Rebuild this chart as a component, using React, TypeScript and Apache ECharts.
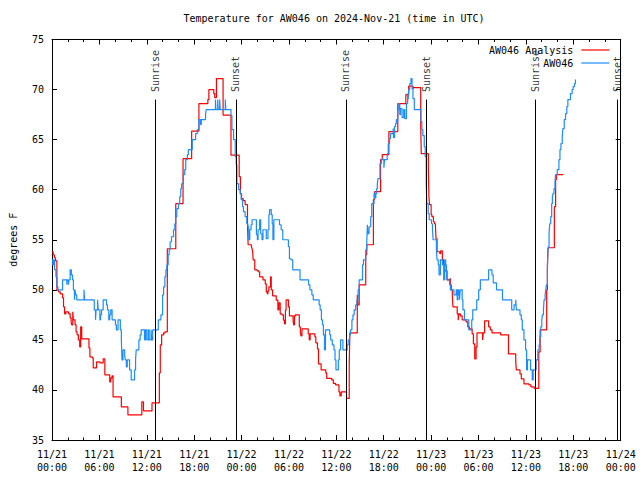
import React, { useEffect, useRef } from 'react';
import * as echarts from 'echarts';

const titleText = 'Temperature for AW046 on 2024-Nov-21 (time in UTC)';
const startMonth = 11;
const startDay = 21;
const seriesNames = ['AW046 Analysis', 'AW046'];

// hours since 11/21 00:00 UTC, degrees F (value holds until next point)
const analysisSteps: [number, number][] = [
  [0, 53.8], [0.15, 53.5], [0.3, 53.2], [0.45, 52.9], [0.62, 50], [0.83, 49.8], [1.04, 49.6], [1.34, 49.2],
  [1.46, 48.3], [1.59, 47.6], [1.75, 47.8], [2.09, 47.6], [2.3, 47.2], [2.42, 46.8], [2.5, 46.5], [2.63, 47.8],
  [2.71, 47.0], [2.92, 46.5], [3.05, 45.8], [3.17, 45.5], [3.34, 45.0], [3.51, 44.3], [3.63, 46.3], [3.76, 45.1],
  [4.68, 44.2], [4.8, 43.3], [5.1, 43.2], [5.22, 42.2], [5.64, 42.8], [6.06, 42.7], [6.48, 43.1], [6.69, 41.5],
  [7.31, 40.8], [7.44, 41.2], [7.6, 41.4], [7.73, 39.3], [8.78, 38.3], [9.61, 37.5], [11.37, 38.8], [11.58, 37.9],
  [12.66, 38.7], [13.59, 41.7], [13.71, 44.5], [13.88, 45.5], [14.13, 45.7], [14.3, 45.8], [14.6, 54.1], [15.67, 58.6],
  [16.59, 63.1], [17.68, 65.85], [18.6, 68.6], [19.73, 69.0], [19.86, 70.0], [20.48, 69.6], [20.6, 69.2], [20.82, 71.1],
  [21.66, 67.45], [22.66, 63.45], [23.7, 61.3], [23.85, 59.6], [24.0, 59.1], [24.2, 58.9], [24.45, 58.5], [24.75, 56.6],
  [24.83, 54.5], [25.25, 54.3], [25.33, 54.1], [25.41, 53.8], [25.46, 53.0], [25.67, 52.0], [26.0, 51.9], [26.17, 51.8],
  [26.29, 51.3], [26.71, 51.0], [27.0, 50.6], [27.13, 49.8], [27.25, 49.6], [27.34, 49.9], [27.46, 50.3], [27.67, 51.3],
  [27.76, 50.0], [27.93, 49.4], [28.39, 48.97], [28.6, 48.0], [28.72, 48.7], [28.89, 47.6], [29.1, 47.5], [29.3, 46.97],
  [29.43, 46.6], [29.55, 47.97], [29.64, 49.0], [29.93, 48.3], [30.06, 47.4], [30.52, 46.97], [30.6, 46.5], [30.7, 47.4],
  [30.81, 47.5], [31.31, 46.3], [31.44, 45.8], [31.52, 45.4], [31.65, 46.1], [32.44, 45.6], [32.57, 45.0], [32.68, 45.6],
  [33.28, 45.3], [33.4, 44.7], [33.61, 44.1], [33.74, 42.6], [34.07, 42.0], [34.66, 41.7], [34.78, 41.15], [35.41, 41.0],
  [35.62, 40.65], [35.91, 40.5], [36.33, 39.8], [36.45, 39.4], [36.62, 39.8], [37.29, 39.15], [37.63, 42.5], [37.71, 45.7],
  [38.65, 49.5], [38.72, 48.5], [38.89, 50.5], [39.72, 53.5], [39.85, 54.5], [40.69, 59.0], [40.85, 59.8], [41.6, 63.0],
  [41.81, 63.5], [42.65, 65.8], [43.78, 68.6], [44.8, 69.5], [45.16, 70.35], [45.7, 70.1], [45.78, 70.2], [46.68, 66.5],
  [46.75, 63.6], [47.65, 62.0], [47.72, 59.3], [47.8, 58.5], [48.0, 57.5], [48.1, 57.3], [48.29, 56.8], [48.42, 56.6],
  [48.55, 56.3], [48.62, 55.1], [48.75, 53.8], [49.1, 53.6], [49.2, 53.9], [49.42, 53.0], [49.59, 52.5], [49.72, 51.9],
  [50.01, 51.0], [50.34, 51.1], [50.43, 50.5], [50.55, 50.0], [50.68, 49.5], [50.76, 48.3], [51.3, 47.6], [51.43, 46.97],
  [51.51, 47.6], [51.7, 47.4], [51.93, 47.0], [52.43, 46.8], [52.64, 46.3], [52.85, 46.1], [53.19, 45.6], [53.35, 44.6],
  [53.52, 43.1], [53.69, 44.3], [53.81, 45.7], [54.52, 45.0], [54.6, 45.7], [54.77, 46.9], [55.28, 46.3], [55.49, 46.0],
  [55.7, 45.7], [56.8, 45.5], [57.79, 43.6], [58.71, 42.8], [58.79, 42.0], [59.25, 41.6], [59.42, 41.1], [59.75, 40.6],
  [60.38, 40.5], [60.63, 40.3], [61.05, 40.15], [61.63, 43.8], [61.8, 46.0], [62.63, 50.0], [62.72, 52.3], [62.8, 54.2],
  [63.6, 58.3], [63.76, 61.0], [63.85, 61.5], [64.72, 61.5],
];

const observedSteps: [number, number][] = [
  [0, 53], [0.1, 52.5], [0.2, 53], [0.33, 52], [0.5, 51.3], [0.62, 50.3], [0.75, 50], [1.34, 51], [1.88, 50.5],
  [1.95, 51], [2.09, 50.5], [2.15, 51], [2.3, 52], [2.45, 51.5], [2.59, 51], [2.71, 50], [2.84, 49], [2.92, 50],
  [3.0, 49.5], [3.13, 49], [4.05, 50], [4.12, 49], [5.35, 48], [5.51, 47], [5.58, 48], [5.77, 49], [5.85, 48],
  [6.06, 47], [6.15, 47.5], [6.27, 48], [6.48, 49], [6.9, 48.5], [7.02, 48], [7.19, 47], [7.3, 47.5], [7.44, 48],
  [7.61, 47], [8.03, 46.5], [8.15, 46], [8.36, 47], [8.65, 46], [8.78, 45], [8.86, 43], [8.99, 44], [9.2, 43.5],
  [9.28, 43], [9.41, 42.3], [9.53, 43], [9.82, 42], [10.03, 41], [10.45, 42], [10.58, 43], [10.66, 44], [11.0, 45],
  [11.16, 45.5], [11.29, 46], [11.71, 45], [11.83, 46], [12.0, 45], [12.2, 46], [12.3, 45], [12.54, 46], [12.62, 45],
  [12.75, 46], [13.46, 47], [13.79, 47.5], [14.0, 49.5], [14.13, 50.3], [14.29, 51.3], [14.42, 52], [14.54, 52.5],
  [14.71, 53.5], [14.84, 54], [14.96, 54.8], [15.13, 55.3], [15.38, 56], [15.55, 56.6], [15.67, 57.3], [15.8, 58.1],
  [16.01, 58.6], [16.17, 59.3], [16.3, 60.1], [16.42, 60.6], [16.63, 61.5], [16.8, 62], [16.93, 63], [17.14, 63.5],
  [17.26, 64], [17.76, 65], [18.18, 65.6], [18.39, 66], [18.6, 67], [18.81, 66.5], [18.9, 67], [19.44, 67.5],
  [19.52, 68], [20.69, 69], [20.75, 68], [20.98, 69], [21.05, 68], [21.23, 69], [21.3, 68], [21.94, 69], [22.0, 68],
  [22.66, 67.4], [22.78, 66], [22.99, 65], [23.2, 63.3], [23.32, 62.5], [23.41, 60.6], [23.62, 60], [23.83, 59.6],
  [23.95, 59], [24.12, 58.3], [24.24, 57.8], [24.45, 57.3], [24.66, 56.6], [24.8, 56.3], [24.91, 55], [25.04, 56],
  [25.2, 56.5], [25.33, 57], [25.88, 55.5], [26.0, 55], [26.09, 56], [26.29, 57], [26.42, 55.6], [26.59, 55],
  [26.71, 56], [27.13, 55.1], [27.34, 56], [27.46, 57.5], [27.55, 58], [27.76, 57.5], [27.88, 56.6], [27.97, 55],
  [28.09, 57], [28.8, 56.5], [29.01, 56], [29.22, 55], [29.93, 54.3], [30.06, 53.1], [30.27, 53], [30.48, 52],
  [31.4, 51], [32.48, 50.5], [32.65, 50], [32.9, 49.5], [33.07, 49], [33.82, 48.5], [33.95, 48], [34.11, 47],
  [34.24, 46.5], [34.36, 45.5], [34.5, 44], [34.62, 46], [35.16, 45.5], [35.28, 45], [35.49, 44.5], [35.7, 44],
  [35.83, 43], [35.95, 42], [36.25, 43], [36.37, 44], [36.54, 45], [36.83, 44], [37.37, 44.5], [37.5, 45],
  [37.67, 45.5], [37.79, 46], [37.97, 47], [38.1, 47.5], [38.26, 48], [38.45, 48.5], [38.6, 49], [38.76, 50],
  [38.89, 51], [39.31, 52.5], [39.43, 53], [39.72, 54], [39.85, 54.7], [39.93, 56.5], [40.0, 55.6], [40.14, 56.3],
  [40.35, 57.3], [40.48, 58.6], [40.77, 59.6], [40.9, 59.2], [41.0, 59.6], [41.1, 60.1], [41.19, 60.6], [41.27, 61.1],
  [41.52, 62.6], [41.69, 63], [42.02, 62.2], [42.1, 63], [42.44, 63.6], [42.57, 64.6], [42.73, 65.1], [42.86, 65.6],
  [43.19, 66.1], [43.25, 65.2], [43.36, 66.3], [43.49, 66.6], [43.6, 67], [43.78, 68], [43.91, 68.6], [44.03, 67.5],
  [44.12, 68.1], [44.32, 67.2], [44.53, 68], [44.66, 67.1], [44.87, 68.6], [45.03, 69.6], [45.1, 69], [45.16, 70],
  [45.29, 70.6], [45.45, 71.1], [45.58, 70.1], [45.7, 69.1], [45.87, 68], [46.71, 66.8], [46.83, 66], [46.95, 65.4],
  [47.13, 64.3], [47.25, 63.3], [47.38, 60.6], [47.46, 58.6], [47.63, 57.6], [47.75, 57], [48.04, 56.6], [48.17, 56],
  [48.25, 55], [48.67, 54], [48.75, 53], [48.9, 52.5], [49.0, 51.5], [49.17, 53], [49.42, 52.5], [49.59, 51],
  [49.72, 53], [49.84, 52.5], [49.93, 52], [50.01, 51], [50.34, 50.5], [50.43, 50], [50.89, 49.5], [51.18, 50],
  [51.3, 49], [51.4, 50], [51.51, 49.5], [51.6, 49], [51.68, 50], [51.93, 49], [52.02, 48], [52.22, 47], [52.77, 46],
  [53.14, 47], [53.27, 48], [53.77, 49], [54.02, 50], [54.23, 51], [55.28, 52], [55.7, 51.5], [55.86, 50.7],
  [56.28, 50], [57.03, 49], [58.2, 48], [58.5, 48.5], [58.71, 49], [58.79, 48], [59.25, 47.5], [59.42, 47],
  [59.54, 46], [59.75, 45], [59.96, 44], [60.09, 42], [60.2, 43], [60.59, 42], [60.8, 41], [60.92, 42], [61.3, 43],
  [61.51, 44], [61.67, 44.5], [61.76, 45.3], [61.88, 46.3], [62.01, 47], [62.09, 47.5], [62.22, 48], [62.3, 49],
  [62.43, 49.5], [62.51, 50], [62.59, 50.5], [62.72, 52], [62.76, 53.6], [62.84, 54.3], [62.93, 55.6], [63.01, 56.6],
  [63.14, 57.3], [63.26, 58.6], [63.35, 59.3], [63.43, 59.6], [63.55, 60.1], [63.68, 60.8], [63.76, 61.5], [63.97, 62],
  [64.18, 63], [64.31, 64], [64.43, 64.6], [64.6, 65.3], [64.68, 66.1], [64.85, 67], [65.02, 67.6], [65.18, 68.3],
  [65.31, 69], [65.64, 69.6], [65.85, 70], [65.98, 70.3], [66.15, 70.6], [66.27, 71],
];

const sunriseHours = [13.12, 37.2, 61.17];
const sunsetHours = [23.28, 47.4, 71.58];
const sunLineTop = 69;
const sunLabelBase = 69.75;

const FONT = "'DejaVu Sans Mono', 'Liberation Mono', monospace";
const RED = '#ff0000';
const BLUE = '#1a8cff';

export default function App() {
  const ref = useRef<HTMLDivElement>(null);
  useEffect(() => {
    if (!ref.current) return;
    const chart = echarts.init(ref.current, null, { renderer: 'svg' });
    const fmtX = (v: number) => {
      const d = startDay + Math.floor(v / 24 + 1e-9);
      const h = Math.round(v - (d - startDay) * 24);
      return `${startMonth}/${d}\n${String(h).padStart(2, '0')}:00`;
    };
    const black = { color: '#000', width: 1 };
    const sunMarks = [
      ...sunriseHours.map((h) => ({ h, name: 'Sunrise' })),
      ...sunsetHours.map((h) => ({ h, name: 'Sunset' })),
    ];
    const xBase = {
      type: 'value', min: 0, max: 72, interval: 6,
      axisLine: { show: true, onZero: false, lineStyle: black },
      axisTick: { show: true, inside: true, length: 5, lineStyle: black },
      minorTick: { show: true, splitNumber: 3, length: 2.5, lineStyle: black },
      splitLine: { show: false }, minorSplitLine: { show: false },
    };
    const yBase = {
      type: 'value', min: 35, max: 75, interval: 5,
      axisLine: { show: true, onZero: false, lineStyle: black },
      axisTick: { show: true, inside: true, length: 5, lineStyle: black },
      splitLine: { show: false },
    };
    chart.setOption({
      animation: false,
      backgroundColor: '#fff',
      textStyle: { fontFamily: FONT },
      title: {
        text: titleText, left: 334, top: 13, textAlign: 'center', padding: 0,
        textStyle: { fontSize: 10, fontWeight: 'normal', color: '#000', fontFamily: FONT },
      },
      grid: { left: 46.7, right: 19.3, top: 39.5, bottom: 40, containLabel: false },
      legend: {
        data: [
          { name: seriesNames[0], icon: 'rect', itemStyle: { color: RED } },
          { name: seriesNames[1], icon: 'rect', itemStyle: { color: BLUE } },
        ],
        orient: 'vertical', right: 30.7, top: 43.5, align: 'right',
        itemWidth: 28, itemHeight: 1.2, itemGap: 0, padding: 0, selectedMode: false,
        textStyle: { fontSize: 10, color: '#000', fontFamily: FONT, lineHeight: 13, padding: [0, 3, 0, 0] },
      },
      xAxis: [
        {
          ...xBase, position: 'bottom',
          axisLabel: { formatter: fmtX, color: '#000', fontSize: 10, fontFamily: FONT, lineHeight: 13, margin: 8, showMinLabel: true, showMaxLabel: true },
        },
        { ...xBase, position: 'top', axisLabel: { show: false } },
      ],
      yAxis: [
        {
          ...yBase, position: 'left',
          name: 'degrees F', nameLocation: 'middle', nameGap: 34, nameRotate: 90,
          nameTextStyle: { fontSize: 10, color: '#000', fontFamily: FONT },
          axisLabel: { color: '#000', fontSize: 10, fontFamily: FONT, margin: 8 },
        },
        { ...yBase, position: 'right', axisLabel: { show: false } },
      ],
      series: [
        {
          type: 'line', name: seriesNames[0], data: analysisSteps, step: 'end', symbol: 'none',
          lineStyle: { color: RED, width: 1.2 }, itemStyle: { color: RED }, silent: true,
        },
        {
          type: 'line', name: seriesNames[1], data: observedSteps, step: 'end', symbol: 'none',
          lineStyle: { color: BLUE, width: 1.2 }, itemStyle: { color: BLUE }, silent: true,
        },
        {
          type: 'scatter', name: 'sun', silent: true, symbolSize: 0,
          data: sunMarks.map((m) => ({ value: [m.h, sunLabelBase], name: m.name })),
          label: {
            show: true, formatter: (p: any) => p.name, position: 'inside', rotate: 90,
            align: 'left', verticalAlign: 'middle', color: '#000', fontSize: 10, fontFamily: FONT,
          },
          markLine: {
            silent: true, symbol: ['none', 'none'], label: { show: false },
            lineStyle: { color: '#000', width: 1, type: 'solid' },
            emphasis: { disabled: true },
            data: sunMarks.map((m) => [{ coord: [m.h, 35] }, { coord: [m.h, sunLineTop] }]),
          },
        },
      ],
    });
    return () => chart.dispose();
  }, []);
  return <div ref={ref} style={{ position: 'absolute', left: 0, top: 0, width: 640, height: 480 }} />;
}
